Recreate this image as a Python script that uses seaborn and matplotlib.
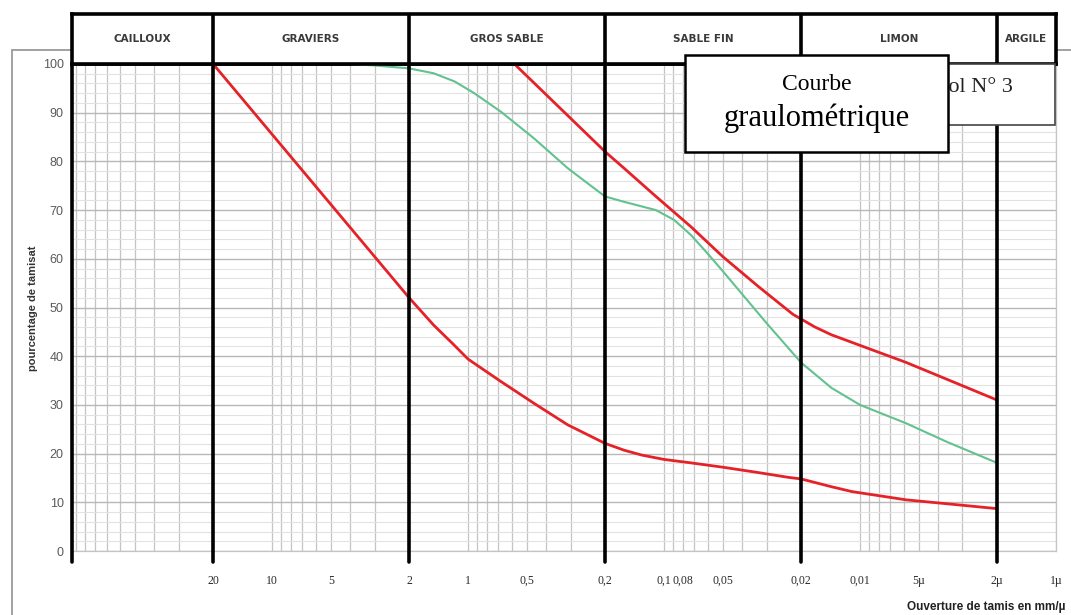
import numpy as np
import pandas as pd
import seaborn as sns
import matplotlib
matplotlib.use('Agg')
from matplotlib import pyplot as plt
from matplotlib.ticker import LogLocator, MultipleLocator, FixedLocator, NullFormatter
from matplotlib.patches import Rectangle

# Classes granulometriques (bandeau du haut)
classes = ['CAILLOUX', 'GRAVIERS', 'GROS SABLE', 'SABLE FIN', 'LIMON', 'ARGILE']
class_limits = [105, 20, 2, 0.2, 0.02, 0.002, 0.001]

# Graduations de l'axe des ouvertures
tick_values = [20, 10, 5, 2, 1, 0.5, 0.2, 0.1, 0.08, 0.05, 0.02, 0.01, 0.005, 0.002, 0.001]
tick_labels = ['20', '10', '5', '2', '1', '0,5', '0,2', '0,1', '0,08', '0,05',
               '0,02', '0,01', '5µ', '2µ', '1µ']

# Fuseau rouge, borne basse
red_low_d = [20, 2, 1.5, 1.2, 1, 0.68, 0.46, 0.31, 0.2, 0.16, 0.13, 0.1, 0.073, 0.05,
             0.033, 0.023, 0.02, 0.014, 0.011, 0.0058, 0.0036, 0.002]
red_low_p = [100, 52, 46.4, 42.6, 39.4, 34.8, 30.3, 25.9, 22.1, 20.7, 19.7, 18.8, 18.1, 17.2,
             16.1, 15.1, 14.8, 13.2, 12.2, 10.5, 9.7, 8.7]

# Fuseau rouge, borne haute
red_high_d = [0.58, 0.2, 0.16, 0.11, 0.073, 0.05, 0.033, 0.022, 0.017, 0.014, 0.0058, 0.002]
red_high_p = [100, 82, 78.6, 72.8, 66.6, 60.4, 54.3, 48.6, 46.0, 44.4, 38.7, 31.0]

# Courbe du sol N° 3 (verte)
green_d = [4, 3, 2, 1.5, 1.17, 0.93, 0.68, 0.46, 0.31, 0.24, 0.2, 0.16, 0.11, 0.089,
           0.073, 0.06, 0.05, 0.03, 0.02, 0.014, 0.01, 0.0058, 0.0036, 0.002]
green_p = [100, 99.7, 99.1, 98.1, 96.4, 94.0, 90.2, 84.7, 78.6, 75.2, 72.8, 71.7, 70.0, 68.0,
           64.9, 61.1, 57.4, 46.8, 38.7, 33.5, 30.0, 26.2, 22.4, 18.1]

RED = '#e52228'
GREEN = '#62c28f'

W, H = 1071, 615


def fx(px):
    return px / W


def fy(py):
    return 1 - py / H


sns.set_theme(style='white')

fig = plt.figure(figsize=(W / 100, H / 100), dpi=100)
fig.patch.set_facecolor('white')

# cadre gris exterieur
fig.add_artist(Rectangle((fx(12), -0.2), 1.2, fy(50) + 0.2, transform=fig.transFigure,
                         fill=False, ec='#9a9a9a', lw=1.3, zorder=-5))

ax = fig.add_axes([fx(72), fy(551), fx(1056) - fx(72), fy(64) - fy(551)])
hax = fig.add_axes([fx(72), fy(64), fx(1056) - fx(72), fy(14) - fy(64)], sharex=ax)

ax.set_xscale('log')
ax.set_xlim(class_limits[0], class_limits[-1])
ax.set_ylim(0, 100)

# grille
ax.xaxis.set_major_locator(FixedLocator(tick_values))
ax.set_xticklabels(tick_labels)
ax.xaxis.set_minor_locator(LogLocator(base=10, subs=np.arange(1, 10), numticks=30))
ax.xaxis.set_minor_formatter(NullFormatter())
ax.yaxis.set_major_locator(MultipleLocator(10))
ax.yaxis.set_minor_locator(MultipleLocator(2))
ax.grid(which='major', axis='x', color='#c4c4c4', lw=0.9)
ax.grid(which='minor', axis='x', color='#c4c4c4', lw=0.9)
ax.grid(which='major', axis='y', color='#b8b8b8', lw=1.0)
ax.grid(which='minor', axis='y', color='#e2e2e2', lw=0.8)
ax.set_axisbelow(True)

ax.tick_params(which='both', length=0)
ax.tick_params(axis='x', pad=17, labelsize=8.5, labelcolor='#2a2a2a')
ax.tick_params(axis='y', pad=6, labelsize=9, labelcolor='#5a5a5a')
for lab in ax.get_xticklabels():
    lab.set_family('Liberation Serif')
for lab in ax.get_yticklabels():
    lab.set_family('Liberation Sans')

for side in ['left', 'right', 'bottom']:
    ax.spines[side].set_color('#c4c4c4')
    ax.spines[side].set_linewidth(0.9)
ax.spines['top'].set_color('black')
ax.spines['top'].set_linewidth(2.6)

# courbes
sns.lineplot(x=red_low_d, y=red_low_p, color=RED, lw=2.0, sort=False, estimator=None, ax=ax, zorder=4)
sns.lineplot(x=red_high_d, y=red_high_p, color=RED, lw=2.0, sort=False, estimator=None, ax=ax, zorder=4)
sns.lineplot(x=green_d, y=green_p, color=GREEN, lw=1.5, sort=False, estimator=None, ax=ax, zorder=3)

# limites des classes (traits noirs epais)
for lim in class_limits[:-1]:
    ax.axvline(lim, ymin=-0.023, ymax=1, color='black', lw=2.6, clip_on=False, zorder=5)

ax.set_xlabel('')
ax.set_ylabel('')

# bandeau des classes
hax.set_ylim(0, 1)
hax.tick_params(which='both', bottom=False, left=False, labelbottom=False, labelleft=False)
hax.grid(False)
for side in hax.spines:
    hax.spines[side].set_color('black')
    hax.spines[side].set_linewidth(2.6)
for lim in class_limits[1:-1]:
    hax.axvline(lim, color='black', lw=2.6)
for name, a, b in zip(classes, class_limits[:-1], class_limits[1:]):
    hax.text(np.sqrt(a * b), 0.5, name, ha='center', va='center', fontsize=7.5,
             fontweight='bold', color='#3a3a3a', family='DejaVu Sans')

# titres d'axes
fig.text(fx(33), fy(308), 'pourcentage de tamisat', rotation=90, ha='center', va='center',
         fontsize=8, fontweight='bold', color='#333333', family='Liberation Sans')
fig.text(fx(907), fy(607), 'Ouverture de tamis en mm/µ', ha='left', va='center',
         fontsize=8.5, fontweight='bold', color='#222222', family='Liberation Sans')

# cartouches
fig.add_artist(Rectangle((fx(860), fy(125)), fx(1055) - fx(860), fy(64) - fy(125),
                         transform=fig.transFigure, fc='white', ec='#444444', lw=1.2, zorder=6))
fig.text(fx(936), fy(88), 'Sol N° 3', ha='left', va='center', fontsize=16,
         family='Liberation Serif', color='#222222', zorder=7)

fig.add_artist(Rectangle((fx(685), fy(152)), fx(948) - fx(685), fy(55) - fy(152),
                         transform=fig.transFigure, fc='white', ec='black', lw=1.8, zorder=8))
fig.text(fx(817), fy(85), 'Courbe', ha='center', va='center', fontsize=17,
         family='Liberation Serif', color='black', zorder=9)
fig.text(fx(817), fy(118), 'graulométrique', ha='center', va='center', fontsize=22,
         family='Liberation Serif', color='black', zorder=9)

fig.savefig('out.png', dpi=100)
